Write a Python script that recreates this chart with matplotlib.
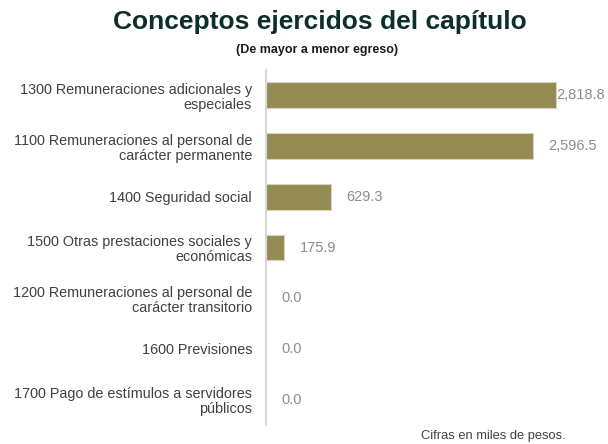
import matplotlib.pyplot as plt

plt.rcParams["font.family"] = ["Liberation Sans", "DejaVu Sans"]

categories = [
    "1300 Remuneraciones adicionales y\nespeciales",
    "1100 Remuneraciones al personal de\ncarácter permanente",
    "1400 Seguridad social",
    "1500 Otras prestaciones sociales y\neconómicas",
    "1200 Remuneraciones al personal de\ncarácter transitorio",
    "1600 Previsiones",
    "1700 Pago de estímulos a servidores\npúblicos",
]
values = [2818.8, 2596.5, 629.3, 175.9, 0.0, 0.0, 0.0]

BAR_COLOR = "#948A54"
TITLE_COLOR = "#0E2E2A"
LABEL_COLOR = "#404040"
VALUE_COLOR = "#8C8C8C"

fig = plt.figure(figsize=(6.08, 4.44), dpi=100)
ax = fig.add_axes([266 / 608, 1 - 425 / 444, (580 - 266) / 608, (425 - 70) / 444])

y = list(range(len(categories)))
ax.barh(y, values, height=0.51, color=BAR_COLOR, edgecolor="#D8D3B8", linewidth=0.8)
ax.set_ylim(len(categories) - 0.5, -0.5)
xmax = 3050
ax.set_xlim(0, xmax)

ax.set_yticks(y)
ax.set_yticklabels(categories, fontsize=10.4, color=LABEL_COLOR, linespacing=1.1)
ax.tick_params(axis="y", length=0, pad=10)
ax.set_xticks([])
for side in ["top", "right", "bottom"]:
    ax.spines[side].set_visible(False)
ax.spines["left"].set_color("#D9D9D9")
ax.spines["left"].set_linewidth(1.5)

for yi, v in zip(y, values):
    text = f"{v:,.1f}"
    if v > xmax * 0.9:
        ax.annotate(text, (v, yi), xytext=(0, 0), textcoords="offset points",
                    ha="left", va="center", fontsize=10.5, color=VALUE_COLOR)
    else:
        ax.annotate(text, (v, yi), xytext=(11, 0), textcoords="offset points",
                    ha="left", va="center", fontsize=10.5, color=VALUE_COLOR)

fig.text(320 / 608, 1 - 29 / 444, "Conceptos ejercidos del capítulo", ha="center",
         va="baseline", fontsize=19, fontweight="bold", color=TITLE_COLOR)
fig.text(317 / 608, 1 - 53 / 444, "(De mayor a menor egreso)", ha="center",
         va="baseline", fontsize=9, fontweight="bold", color="#1A1A1A")
fig.text(493 / 608, 1 - 436 / 444, "Cifras en miles de pesos.", ha="center",
         va="center", fontsize=9.3, color=LABEL_COLOR)

fig.savefig("out.png", dpi=100)
